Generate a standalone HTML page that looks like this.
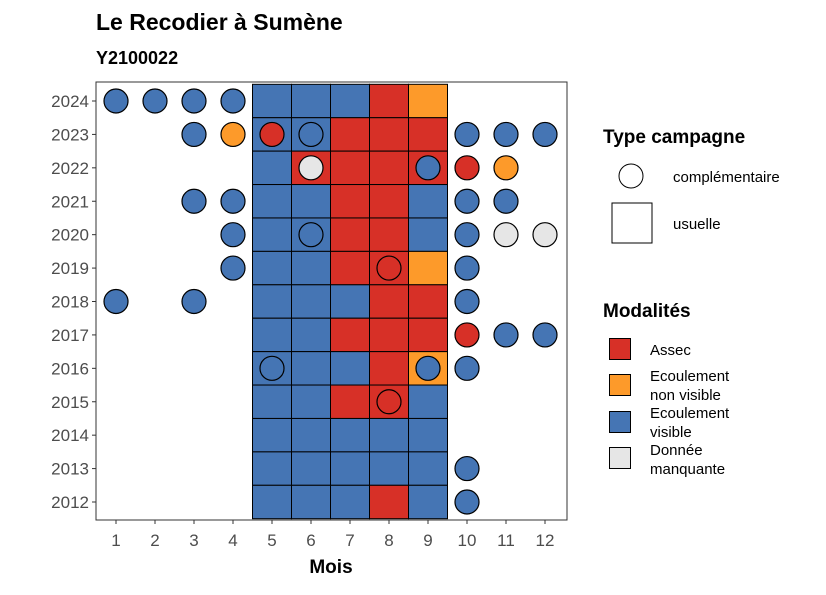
<!DOCTYPE html>
<html><head><meta charset="utf-8"><style>
body{margin:0;background:#fff}
text{font-family:"Liberation Sans",sans-serif}
</style></head><body>
<svg width="826" height="590" xmlns="http://www.w3.org/2000/svg">
<text x="96" y="30" font-size="23" font-weight="bold">Le Recodier à Sumène</text>
<text x="96" y="64" font-size="18" font-weight="bold">Y2100022</text>
<g id="tiles"></g><g id="circles"></g>
<rect x="96" y="82" width="471" height="438" fill="none" stroke="#333" stroke-width="1"/>
<g id="axes"></g>
<text x="331" y="573" font-size="19" font-weight="bold" text-anchor="middle">Mois</text>
<g>
<text x="603" y="143" font-size="19" font-weight="bold">Type campagne</text>
<circle cx="631" cy="176" r="12" fill="#fff" stroke="#000"/>
<text x="673" y="182" font-size="15">complémentaire</text>
<rect x="612" y="203" width="40" height="40" fill="#fff" stroke="#000"/>
<text x="673" y="229" font-size="15">usuelle</text>
</g>
<g>
<text x="603" y="317" font-size="19" font-weight="bold">Modalités</text>
<rect x="609.5" y="338.5" width="21" height="21" fill="#d73027" stroke="#000"/>
<text x="650" y="355" font-size="15">Assec</text>
<rect x="609.5" y="374.5" width="21" height="21" fill="#fd9a2a" stroke="#000"/>
<text x="650" y="381" font-size="15">Ecoulement</text><text x="650" y="400" font-size="15">non visible</text>
<rect x="609.5" y="411.5" width="21" height="21" fill="#4575b4" stroke="#000"/>
<text x="650" y="418" font-size="15">Ecoulement</text><text x="650" y="437" font-size="15">visible</text>
<rect x="609.5" y="447.5" width="21" height="21" fill="#e6e6e6" stroke="#000"/>
<text x="650" y="455" font-size="15">Donnée</text><text x="650" y="474" font-size="15">manquante</text>
</g>
</svg>
<script>
const years=[2024,2023,2022,2021,2020,2019,2018,2017,2016,2015,2014,2013,2012];
const tileMonths=[5,6,7,8,9];
const tileCodes=["BBBRO","BBRRR","BRRRR","BBRRB","BBRRB","BBRRO","BBBRR","BBRRR","BBBRO","BBRRB","BBBBB","BBBBB","BBBRB"];
const circleYears=[2024,2024,2024,2024,2023,2023,2023,2023,2023,2023,2023,2022,2022,2022,2022,2021,2021,2021,2021,2020,2020,2020,2020,2020,2019,2019,2019,2018,2018,2018,2017,2017,2017,2016,2016,2016,2015,2013,2012];
const circleMonths=[1,2,3,4,3,4,5,6,10,11,12,6,9,10,11,3,4,10,11,4,6,10,11,12,4,8,10,1,3,10,10,11,12,5,9,10,8,10,10];
const circleCodes="BBBBBORBBBBGBROBBBBBBBGGBRBBBBRBBBBBRBB";
const col={R:"#d73027",O:"#fd9a2a",B:"#4575b4",G:"#e6e6e6"};
const xs=m=>116+(m-1)*39, ys=y=>101+(2024-y)*(401/12);
const NS="http://www.w3.org/2000/svg";
function mk(t,a,p){const e=document.createElementNS(NS,t);for(const k in a)e.setAttribute(k,a[k]);p.appendChild(e);return e;}
const T=document.getElementById('tiles');
years.forEach((y,i)=>tileMonths.forEach((m,j)=>{
 const r=mk('rect',{x:xs(m)-19.5,y:ys(y)-16.7,width:39,height:33.4,fill:col[tileCodes[i][j]],stroke:"#000","stroke-width":1},T);
 
 
}));
const C=document.getElementById('circles');
circleYears.forEach((y,i)=>{
 const c=mk('circle',{cx:xs(circleMonths[i]),cy:ys(y),r:12,fill:col[circleCodes[i]],stroke:"#000","stroke-width":1.2},C);
 
 
});
const A=document.getElementById('axes');
years.forEach(y=>{
 mk('line',{x1:92,x2:96,y1:ys(y),y2:ys(y),stroke:"#333"},A);
 const t=mk('text',{x:89,y:ys(y)+6,"font-size":17,"text-anchor":"end",fill:"#4d4d4d"},A);t.textContent=y;
 
 
});
for(let m=1;m<=12;m++){
 mk('line',{x1:xs(m),x2:xs(m),y1:520,y2:524,stroke:"#333"},A);
 const t=mk('text',{x:xs(m),y:546,"font-size":17,"text-anchor":"middle",fill:"#4d4d4d"},A);t.textContent=m;
 
 
}
</script>
</body></html>
